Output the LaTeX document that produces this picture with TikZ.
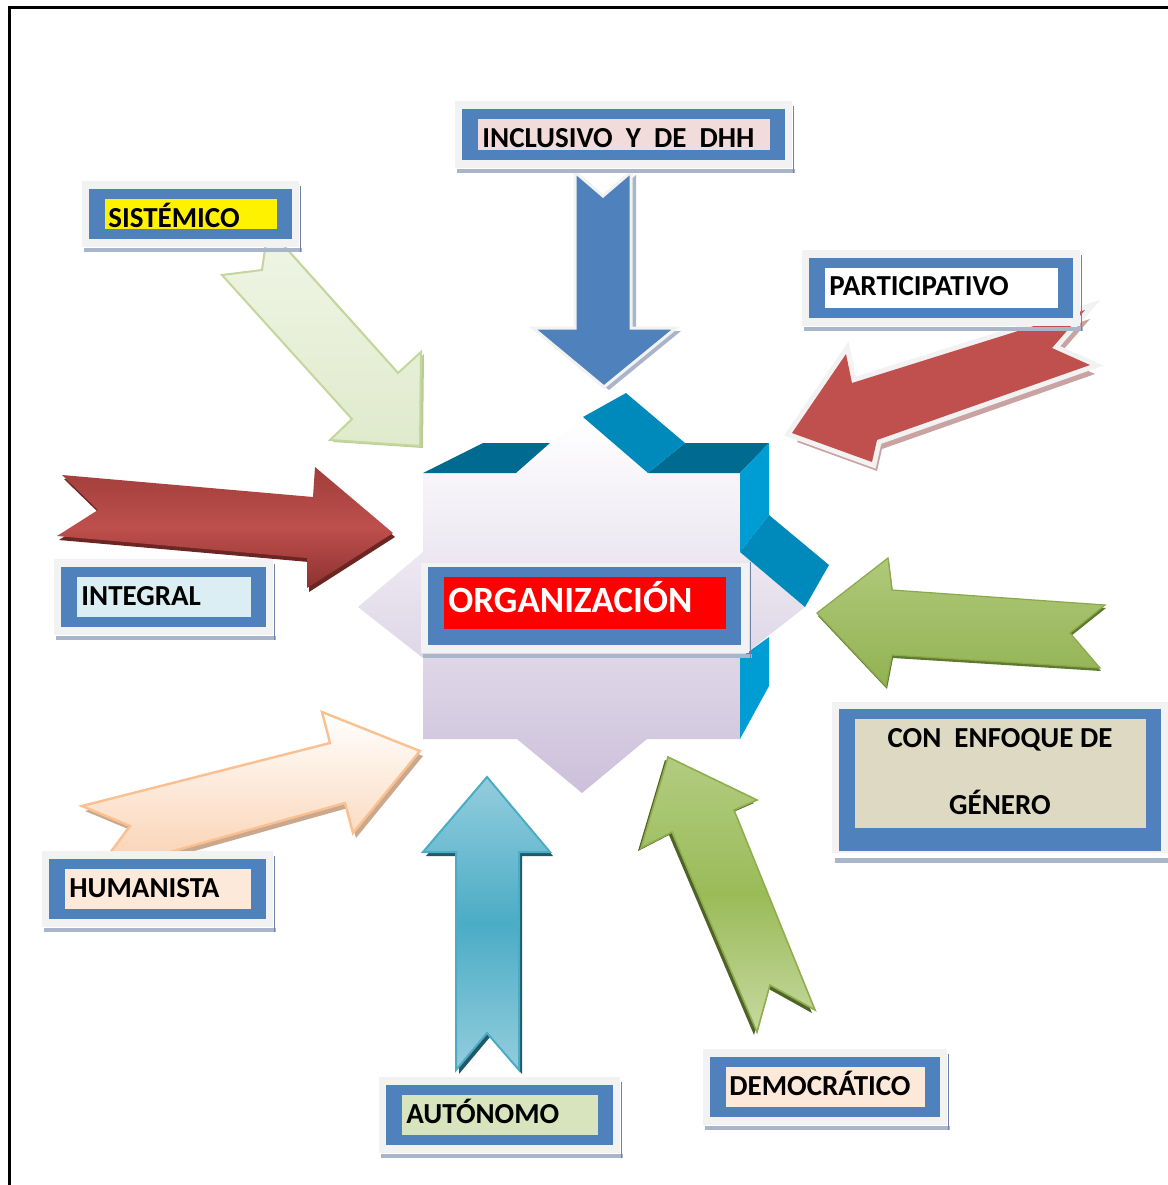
\documentclass[tikz,border=0pt]{standalone}
\usepackage{fontspec}
\setmainfont{Carlito}
\definecolor{boxblue}{HTML}{4F81BD}
\definecolor{outergray}{HTML}{F2F2F2}
\definecolor{hatchc}{HTML}{A9B5CB}
\definecolor{hatchline}{HTML}{6F82A5}
\definecolor{inclpink}{HTML}{F2DCDB}
\definecolor{integblue}{HTML}{DBEEF3}
\definecolor{gentan}{HTML}{DDD9C3}
\definecolor{peach}{HTML}{FDE9D9}
\definecolor{autgreen}{HTML}{D7E4BD}
\definecolor{starlav}{HTML}{CCC0DA}
\definecolor{slabdark}{HTML}{006A91}
\definecolor{slabmid}{HTML}{0089BB}
\definecolor{slablight}{HTML}{009DD5}
\definecolor{partred}{HTML}{C0504D}
\definecolor{redhatch}{HTML}{C9A3A2}
\newcommand\lbox[5]{%
  \fill[hatchc] (#1-5,#4+9) rectangle (#3+10,#4+13);
  \draw[hatchline, line width=0.6pt] (#3+8.5,#2-3) -- (#3+8.5,#4+13);
  \fill[outergray] (#1-7,#2-8) rectangle (#3+7,#4+8);
  \fill[boxblue] (#1,#2) rectangle (#3,#4);
  \fill[#5] (#1+16,#2+10) rectangle (#3-15,#4-10);
}
\begin{document}
\begin{tikzpicture}[x=0.5pt,y=-0.5pt, line join=miter,
  lbl/.style={font=\fontsize{14.5}{17}\selectfont\bfseries, inner sep=0pt, text height=9.3pt, text depth=0pt, anchor=west},
  biglbl/.style={font=\fontsize{18.5}{22}\selectfont\bfseries, text=white, inner sep=0pt, text height=11.9pt, text depth=0pt, anchor=west}]
\useasboundingbox (0,0) rectangle (1168,1185);
\fill[white] (0,0) rectangle (1168,1185);
% frame
\draw[line width=1.5pt] (1168,7) -- (9,7) -- (9,1185);

% central star
\path[top color=white, bottom color=starlav] (423,473) -- (517,473) -- (583,417) -- (648,473) -- (740,473) -- (740,552) -- (805,607) -- (740,658) -- (740,739) -- (647,739) -- (582,793) -- (517,739) -- (423,739) -- (423,658) -- (358,607) -- (423,552) -- cycle;
\fill[slabdark] (423,473) -- (483,443) -- (550,443) -- (516,473) -- cycle;
\fill[slabdark] (648,473) -- (685,443) -- (769,443) -- (740,473) -- cycle;
\fill[slabmid] (583,417) -- (626,393) -- (685,443) -- (648,473) -- cycle;
\fill[slablight] (740,473) -- (769,443) -- (769,515) -- (740,552) -- cycle;
\fill[slabmid] (740,552) -- (769,515) -- (829,565) -- (805,607) -- cycle;
\fill[slablight] (740,658) -- (769,637) -- (769,686) -- (740,739) -- cycle;

% arrows
\def\pA{(575,172) -- (603,196) -- (631,172) -- (631,328) -- (676,328) -- (604,387) -- (533,328) -- (575,328) -- cycle}
\fill[hatchc, shift={(5,3)}] \pA;
\path[fill=boxblue, draw=outergray, line width=1.5pt] \pA;

\def\pB{(420,446) -- (330,440) -- (352,419) -- (222,275) -- (262,270) -- (268,228) -- (398,373) -- (421,352) -- cycle}
\fill[color={rgb,255:red,185;green,204;blue,147}, shift={(3,2)}] \pB;
\path[top color={rgb,255:red,240;green,245;blue,230}, bottom color={rgb,255:red,224;green,234;blue,204}, draw={rgb,255:red,195;green,214;blue,155}, line width=1pt] \pB;

\def\pC{(792,433) -- (846,354) -- (852,383) -- (1085,310) -- (1052,348) -- (1090,365) -- (877,440) -- (872,462) -- cycle}
\fill[redhatch, shift={(5,9)}] \pC;
\draw[outergray, line width=5pt] \pC;
\fill[partred] \pC;

\def\pD{(62,475) -- (313,497) -- (315,467) -- (393,533) -- (307,588) -- (307,558) -- (57,536) -- (98,510) -- cycle}
\fill[color={rgb,255:red,107;green,38;blue,36}, shift={(2,4)}] \pD;
\path[top color={rgb,255:red,160;green,62;blue,59}, bottom color={rgb,255:red,140;green,50;blue,48}, middle color={rgb,255:red,190;green,79;blue,76}] \pD;

\def\pE{(817,613) -- (888,558) -- (892,590) -- (1105,605) -- (1070,633) -- (1100,668) -- (892,655) -- (886,686) -- cycle}
\fill[color={rgb,255:red,94;green,122;blue,46}, shift={(1,3)}] \pE;
\path[top color={rgb,255:red,175;green,201;blue,122}, bottom color={rgb,255:red,147;green,178;blue,82}, draw={rgb,255:red,138;green,170;blue,74}, line width=0.6pt] \pE;

\def\pF{(82,806) -- (330,743) -- (322,712) -- (420,751) -- (353,833) -- (345,803) -- (95,873) -- (130,826) -- cycle}
\fill[color={rgb,255:red,201;green,168;blue,142}, shift={(3,5)}] \pF;
\path[top color=white, bottom color={rgb,255:red,250;green,208;blue,174}, draw={rgb,255:red,250;green,192;blue,144}, line width=1.2pt] \pF;

\def\pG{(487,777) -- (550,852) -- (519,852) -- (519,1070) -- (487,1033) -- (456,1070) -- (456,852) -- (423,852) -- cycle}
\fill[color={rgb,255:red,33;green,89;blue,104}, shift={(3,4)}] \pG;
\path[top color={rgb,255:red,147;green,205;blue,221}, bottom color={rgb,255:red,147;green,205;blue,221}, middle color={rgb,255:red,75;green,172;blue,198}, draw={rgb,255:red,75;green,172;blue,198}, line width=1pt] \pG;

\def\pH{(668,757) -- (757,800) -- (734,810) -- (815,1010) -- (770,985) -- (757,1032) -- (672,832) -- (641,848) -- cycle}
\fill[color={rgb,255:red,79;green,98;blue,40}, shift={(-3,3)}] \pH;
\path[top color={rgb,255:red,178;green,204;blue,128}, bottom color={rgb,255:red,198;green,217;blue,160}, middle color={rgb,255:red,155;green,187;blue,89}, draw={rgb,255:red,141;green,174;blue,77}, line width=0.8pt] \pH;

% label boxes
\lbox{462}{109}{785}{160}{inclpink}
\node[lbl] (incl) at (482,138) {INCLUSIVO~ Y~ DE~ DHH};
\lbox{89}{189}{292}{239}{yellow}
\node[lbl] (sist) at (108,218) {SISTÉMICO};
\lbox{809}{258}{1073}{318}{white}
\node[lbl] (part) at (829,286) {PARTICIPATIVO};
\lbox{61}{567}{266}{627}{integblue}
\node[lbl] (integ) at (81,596) {INTEGRAL};
\lbox{49}{859}{266}{919}{peach}
\node[lbl] (hum) at (69,888) {HUMANISTA};
\lbox{386}{1085}{613}{1145}{autgreen}
\node[lbl] (aut) at (406,1114) {AUTÓNOMO};
\lbox{710}{1057}{940}{1117}{peach}
\node[lbl] (dem) at (729,1086) {DEMOCRÁTICO};

% organizacion
\fill[hatchc] (423,654) rectangle (752,658);
\draw[hatchline, line width=0.6pt] (750.5,562) -- (750.5,658);
\fill[outergray] (421,563) rectangle (749,653);
\fill[boxblue] (428,567) rectangle (741,645);
\fill[red] (444,577) rectangle (726,629);
\node[biglbl] (org) at (448,601) {ORGANIZACIÓN};

% genero
\fill[hatchc] (835,858) rectangle (1168,863);
\fill[outergray] (832,702) rectangle (1168,853);
\fill[boxblue] (839,709) rectangle (1161,851);
\fill[gentan] (855,719) rectangle (1146,828);
\node[lbl, anchor=center] (gen1) at (1000,738) {CON~ ENFOQUE DE};
\node[lbl, anchor=center] (gen2) at (1000,805) {GÉNERO};
\end{tikzpicture}
\end{document}
